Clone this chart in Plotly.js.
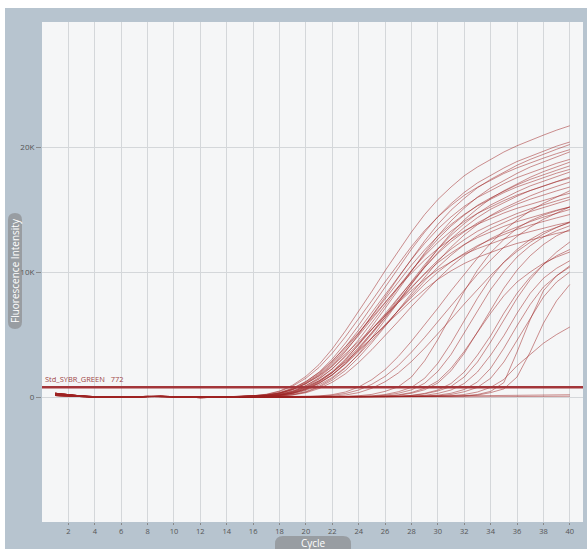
<!DOCTYPE html>
<html>
<head>
<meta charset="utf-8">
<script src="https://cdn.plot.ly/plotly-3.0.1.min.js"></script>
<style>html,body{margin:0;padding:0;background:#fff;}#chart{width:587px;height:549px;}</style>
</head>
<body>
<div id="chart"></div>
<script>
// Fluorescence values in thousands (K) per cycle 1..40
const cycles = [1,2,3,4,5,6,7,8,9,10,11,12,13,14,15,16,17,18,19,20,21,22,23,24,25,26,27,28,29,30,31,32,33,34,35,36,37,38,39,40];
const xTickVals = [2,4,6,8,10,12,14,16,18,20,22,24,26,28,30,32,34,36,38,40];
const xTickText = ['2','4','6','8','10','12','14','16','18','20','22','24','26','28','30','32','34','36','38','40'];
const yTickVals = [0,10,20];
const yTickText = ['0','10K','20K'];
const thresholdK = 0.772;
const thresholdLabel = 'Std_SYBR_GREEN\u00a0\u00a0\u00a0772';

const A1 = [0.25,0.14,0.06,0.02,-0.02,-0.03,0.01,0.05,0.06,0.03,0.00,-0.03,-0.02,0.02,0.04,0.10,0.22,0.48,0.95,1.65,2.6,3.85,5.3,6.85,8.45,10.1,11.7,13.2,14.6,15.8,16.8,17.7,18.4,19.0,19.6,20.1,20.55,20.95,21.35,21.7];
const A2 = [0.18,0.10,0.04,0.00,-0.03,-0.01,0.03,0.07,0.05,0.02,-0.02,-0.05,-0.03,0.00,0.03,0.07,0.15,0.33,0.67,1.23,1.99,3.04,4.32,5.74,7.26,8.78,10.34,11.82,13.19,14.42,15.47,16.37,17.13,17.75,18.32,18.84,19.26,19.69,20.07,20.40];
const A3 = [0.30,0.17,0.08,0.03,0.00,-0.02,0.00,0.04,0.05,0.04,0.01,-0.02,-0.03,-0.01,0.02,0.04,0.09,0.21,0.45,0.90,1.56,2.46,3.64,5.01,6.48,7.99,9.55,11.07,12.49,13.81,14.95,15.89,16.74,17.41,17.97,18.54,19.01,19.44,19.82,20.20];
const A4 = [0.12,0.06,0.02,-0.01,-0.04,-0.03,0.02,0.05,0.04,0.01,-0.01,-0.04,-0.05,-0.02,0.04,0.09,0.20,0.44,0.87,1.50,2.37,3.51,4.83,6.25,7.71,9.21,10.67,12.04,13.32,14.41,15.32,16.14,16.78,17.33,17.88,18.33,18.74,19.11,19.47,19.79];
const A5 = [0.25,0.14,0.06,0.02,-0.02,-0.03,0.01,0.05,0.06,0.03,0.00,-0.03,-0.04,-0.02,0.01,0.03,0.06,0.15,0.32,0.66,1.21,1.95,2.97,4.22,5.61,7.09,8.57,10.10,11.54,12.89,14.09,15.11,15.99,16.73,17.33,17.89,18.40,18.82,19.24,19.61];
const A6 = [0.18,0.10,0.04,0.00,-0.03,-0.01,0.03,0.07,0.05,0.02,-0.02,-0.05,-0.03,0.00,0.03,0.06,0.14,0.31,0.63,1.15,1.86,2.83,4.02,5.35,6.76,8.18,9.64,11.01,12.29,13.44,14.41,15.25,15.96,16.53,17.06,17.55,17.95,18.34,18.70,19.01];
const A7 = [0.30,0.17,0.08,0.03,0.00,-0.02,0.00,0.04,0.05,0.04,0.01,-0.02,-0.03,-0.01,0.01,0.02,0.04,0.09,0.20,0.43,0.85,1.48,2.33,3.45,4.75,6.14,7.58,9.06,10.49,11.84,13.10,14.17,15.07,15.88,16.50,17.04,17.58,18.03,18.43,18.79];
const A8 = [0.12,0.06,0.02,-0.01,-0.04,-0.03,0.02,0.05,0.04,0.01,-0.01,-0.04,-0.05,-0.02,0.02,0.04,0.09,0.19,0.42,0.82,1.43,2.25,3.33,4.59,5.93,7.32,8.75,10.13,11.43,12.64,13.68,14.55,15.33,15.93,16.45,16.97,17.41,17.80,18.14,18.49];
const A9 = [0.25,0.14,0.06,0.02,-0.02,-0.03,0.01,0.05,0.06,0.03,0.00,-0.03,-0.04,-0.02,0.01,0.03,0.06,0.14,0.30,0.60,1.11,1.79,2.72,3.87,5.15,6.51,7.87,9.28,10.59,11.83,12.94,13.87,14.68,15.36,15.91,16.42,16.89,17.28,17.66,18.00];
const A10 = [0.18,0.10,0.04,0.00,-0.03,-0.01,0.03,0.07,0.05,0.02,-0.02,-0.05,-0.03,0.00,0.02,0.06,0.13,0.28,0.58,1.06,1.71,2.60,3.70,4.92,6.23,7.53,8.87,10.13,11.31,12.37,13.27,14.04,14.69,15.22,15.71,16.16,16.52,16.89,17.22,17.50];
const A11 = [0.30,0.17,0.08,0.03,0.00,-0.02,0.00,0.04,0.05,0.04,0.01,-0.02,-0.03,-0.01,0.01,0.02,0.04,0.08,0.18,0.39,0.78,1.35,2.13,3.16,4.35,5.62,6.94,8.29,9.61,10.84,11.99,12.97,13.79,14.53,15.11,15.60,16.09,16.50,16.87,17.20];
const A12 = [0.12,0.06,0.02,-0.01,-0.04,-0.03,0.02,0.05,0.04,0.01,-0.01,-0.04,-0.05,-0.02,0.02,0.04,0.08,0.17,0.38,0.75,1.30,2.05,3.03,4.17,5.39,6.65,7.95,9.21,10.39,11.49,12.43,13.22,13.93,14.48,14.95,15.43,15.82,16.17,16.49,16.80];
const A13 = [0.25,0.14,0.06,0.02,-0.02,-0.03,0.01,0.05,0.06,0.03,0.00,-0.03,-0.04,-0.02,0.03,0.08,0.17,0.36,0.71,1.24,1.95,2.89,3.98,5.14,6.35,7.59,8.79,9.91,10.96,11.87,12.62,13.29,13.82,14.27,14.72,15.10,15.43,15.73,16.03,16.30];
const A14 = [0.18,0.10,0.04,0.00,-0.03,-0.01,0.03,0.07,0.05,0.02,-0.02,-0.05,-0.03,0.00,0.01,0.03,0.05,0.12,0.26,0.53,0.97,1.57,2.39,3.40,4.52,5.71,6.91,8.14,9.30,10.38,11.35,12.18,12.89,13.48,13.97,14.42,14.83,15.16,15.50,15.80];
const A15 = [0.30,0.17,0.08,0.03,0.00,-0.02,0.00,0.04,0.05,0.04,0.01,-0.02,-0.03,-0.01,0.02,0.05,0.11,0.25,0.50,0.92,1.48,2.26,3.22,4.28,5.41,6.54,7.71,8.80,9.83,10.75,11.52,12.20,12.76,13.22,13.65,14.03,14.35,14.67,14.95,15.20];
const A16 = [0.12,0.06,0.02,-0.01,-0.04,-0.03,0.02,0.05,0.04,0.01,-0.01,-0.04,-0.05,-0.02,0.01,0.03,0.07,0.15,0.33,0.65,1.13,1.78,2.63,3.63,4.69,5.78,6.91,8.00,9.03,9.99,10.81,11.49,12.11,12.59,13.00,13.41,13.75,14.06,14.33,14.60];
const A17 = [0.25,0.14,0.06,0.02,-0.02,-0.03,0.01,0.05,0.06,0.03,0.00,-0.03,-0.04,-0.02,0.03,0.06,0.14,0.31,0.61,1.06,1.68,2.48,3.42,4.42,5.45,6.51,7.55,8.51,9.42,10.19,10.84,11.42,11.87,12.26,12.64,12.96,13.25,13.51,13.77,14.00];
const A18 = [0.18,0.10,0.04,0.00,-0.03,-0.01,0.03,0.07,0.05,0.02,-0.02,-0.05,-0.03,0.00,0.02,0.04,0.10,0.22,0.44,0.80,1.30,1.98,2.82,3.74,4.74,5.73,6.75,7.71,8.60,9.41,10.09,10.68,11.17,11.58,11.95,12.29,12.57,12.84,13.09,13.30];
const A19 = [0.30,0.17,0.08,0.03,0.00,-0.02,0.00,0.04,0.05,0.04,0.01,-0.02,-0.03,-0.01,0.01,0.02,0.03,0.07,0.16,0.34,0.68,1.18,1.86,2.76,3.79,4.90,6.05,7.23,8.38,9.45,10.45,11.31,12.03,12.67,13.17,13.60,14.03,14.39,14.71,15.00];
const A20 = [0.12,0.06,0.02,-0.01,-0.04,-0.03,0.02,0.05,0.04,0.01,-0.01,-0.04,-0.05,-0.02,0.01,0.03,0.07,0.16,0.36,0.71,1.24,1.95,2.88,3.97,5.13,6.33,7.56,8.76,9.89,10.94,11.83,12.58,13.26,13.78,14.23,14.68,15.05,15.39,15.69,16.00];
const A21 = [0.25,0.14,0.06,0.02,-0.02,-0.03,0.01,0.05,0.06,0.03,0.00,-0.03,-0.04,-0.02,0.02,0.06,0.14,0.30,0.60,1.10,1.78,2.71,3.85,5.12,6.48,7.83,9.23,10.55,11.77,12.87,13.81,14.61,15.29,15.84,16.35,16.81,17.19,17.58,17.91,18.21];
const A22 = [0.18,0.10,0.04,0.00,-0.03,-0.01,0.03,0.07,0.05,0.02,-0.02,-0.05,-0.03,0.00,0.01,0.03,0.06,0.13,0.29,0.59,1.08,1.75,2.66,3.79,5.03,6.36,7.70,9.07,10.36,11.56,12.65,13.56,14.35,15.02,15.56,16.06,16.52,16.89,17.26,17.60];

const L1 = [0.30,0.17,0.08,0.03,0.00,-0.02,0.00,0.04,0.05,0.04,0.01,-0.02,-0.03,-0.01,0.00,0.00,0.01,0.01,0.02,0.03,0.08,0.19,0.40,0.80,1.39,2.19,3.24,4.46,5.77,7.11,8.50,9.85,11.11,12.29,13.30,14.15,14.90,15.49,16.00,16.50];
const L2 = [0.12,0.06,0.02,-0.01,-0.04,-0.03,0.02,0.05,0.04,0.01,-0.01,-0.04,-0.05,-0.02,0.00,-0.01,0.00,0.01,0.01,0.02,0.06,0.13,0.28,0.56,1.02,1.65,2.52,3.59,4.77,6.03,7.29,8.59,9.81,10.95,11.98,12.85,13.59,14.22,14.74,15.21];
const L3 = [0.25,0.14,0.06,0.02,-0.02,-0.03,0.01,0.05,0.06,0.03,0.00,-0.03,-0.04,-0.02,0.00,0.01,0.00,0.01,0.01,0.02,0.03,0.07,0.16,0.35,0.70,1.22,1.92,2.84,3.91,5.05,6.23,7.44,8.62,9.73,10.76,11.65,12.38,13.04,13.56,14.00];
const L4 = [0.18,0.10,0.04,0.00,-0.03,-0.01,0.03,0.07,0.05,0.02,-0.02,-0.05,-0.03,0.00,0.00,0.00,0.01,0.00,0.01,0.01,0.02,0.02,0.04,0.10,0.21,0.45,0.82,1.60,2.90,4.60,6.50,8.45,10.15,11.55,12.60,13.50,14.10,14.55,14.90,15.20];
const L5 = [0.30,0.17,0.08,0.03,0.00,-0.02,0.00,0.04,0.05,0.04,0.01,-0.02,-0.03,-0.01,0.00,0.00,-0.01,0.00,0.01,0.00,0.01,0.02,0.02,0.04,0.09,0.20,0.42,0.77,1.50,2.70,4.30,6.10,7.90,9.50,10.80,11.80,12.60,13.20,13.60,13.95];
const L6 = [0.12,0.06,0.02,-0.01,-0.04,-0.03,0.02,0.05,0.04,0.01,-0.01,-0.04,-0.05,-0.02,0.00,-0.01,0.00,0.00,0.01,0.01,0.00,0.01,0.02,0.03,0.06,0.14,0.30,0.57,1.10,2.05,3.40,5.10,6.90,8.60,10.00,11.20,12.10,12.80,13.30,13.70];
const L7 = [0.25,0.14,0.06,0.02,-0.02,-0.03,0.01,0.05,0.06,0.03,0.00,-0.03,-0.04,-0.02,0.00,0.01,0.00,0.00,0.01,0.01,0.01,0.01,0.02,0.02,0.03,0.08,0.17,0.36,0.70,1.28,2.30,3.65,5.20,6.70,8.10,9.20,10.00,10.70,11.20,11.60];
const L8 = [0.18,0.10,0.04,0.00,-0.03,-0.01,0.03,0.07,0.05,0.02,-0.02,-0.05,-0.03,0.00,0.00,0.00,0.01,0.00,0.00,0.01,0.01,0.02,0.01,0.02,0.03,0.06,0.14,0.30,0.58,1.12,2.10,3.50,5.20,7.00,8.70,10.15,11.30,12.20,12.90,13.40];
const L9 = [0.30,0.17,0.08,0.03,0.00,-0.02,0.00,0.04,0.05,0.04,0.01,-0.02,-0.03,-0.01,0.00,0.00,0.00,0.01,0.00,0.01,0.01,0.01,0.02,0.02,0.03,0.03,0.06,0.13,0.29,0.56,1.08,2.00,3.35,4.90,6.70,8.30,9.60,10.60,11.30,11.80];
const L10 = [0.12,0.06,0.02,-0.01,-0.04,-0.03,0.02,0.05,0.04,0.01,-0.01,-0.04,-0.05,-0.02,0.00,-0.01,0.00,0.00,0.00,0.01,0.01,0.00,0.01,0.01,0.02,0.02,0.03,0.06,0.13,0.29,0.56,1.08,2.00,3.35,4.90,6.70,8.30,9.50,10.30,10.90];
const L11 = [0.25,0.14,0.06,0.02,-0.02,-0.03,0.01,0.05,0.06,0.03,0.00,-0.03,-0.04,-0.02,0.00,0.01,0.00,0.00,0.01,0.00,0.01,0.01,0.01,0.02,0.01,0.02,0.02,0.03,0.07,0.15,0.30,0.60,1.20,2.30,3.90,5.70,7.40,8.80,9.70,10.40];
const L12 = [0.18,0.10,0.04,0.00,-0.03,-0.01,0.03,0.07,0.05,0.02,-0.02,-0.05,-0.03,0.00,0.00,0.00,0.01,0.00,0.00,0.01,0.01,0.00,0.01,0.01,0.02,0.02,0.02,0.03,0.04,0.09,0.20,0.42,0.77,1.50,2.80,4.50,6.30,8.00,9.20,10.00];
const L13 = [0.30,0.17,0.08,0.03,0.00,-0.02,0.00,0.04,0.05,0.04,0.01,-0.02,-0.03,-0.01,0.00,0.00,0.00,0.01,0.00,0.01,0.01,0.01,0.02,0.02,0.02,0.03,0.03,0.04,0.05,0.07,0.10,0.20,0.40,0.77,1.40,2.50,3.40,4.30,5.00,5.60];
const L14 = [0.12,0.06,0.02,-0.01,-0.04,-0.03,0.02,0.05,0.04,0.01,-0.01,-0.04,-0.05,-0.02,0.00,-0.01,0.00,0.00,0.00,0.01,0.00,0.01,0.01,0.01,0.02,0.02,0.02,0.03,0.03,0.04,0.06,0.10,0.20,0.45,1.15,3.60,6.20,8.50,9.70,10.50];
const L15 = [0.25,0.14,0.06,0.02,-0.02,-0.03,0.01,0.05,0.06,0.03,0.00,-0.03,-0.04,-0.02,0.00,0.01,0.00,0.00,0.01,0.00,0.01,0.01,0.01,0.01,0.02,0.02,0.02,0.03,0.03,0.04,0.05,0.08,0.15,0.35,0.65,1.60,3.60,5.90,7.70,9.00];
const L16 = [0.18,0.10,0.04,0.00,-0.03,-0.01,0.03,0.07,0.05,0.02,-0.02,-0.05,-0.03,0.00,0.00,0.00,0.01,0.00,0.01,0.01,0.01,0.02,0.02,0.02,0.03,0.04,0.05,0.12,0.25,0.48,0.85,1.60,2.80,4.40,6.20,7.90,9.40,10.60,11.60,12.40];

const N1 = [0.30,0.17,0.08,0.03,0.00,-0.02,0.00,0.04,0.05,0.04,0.01,-0.02,-0.03,-0.01,0.00,0.00,-0.01,0.00,0.00,0.01,0.00,0.00,0.01,0.00,0.01,0.01,0.00,0.01,0.01,0.02,0.01,0.02,0.02,0.03,0.03,0.04,0.04,0.05,0.05,0.06];
const N2 = [0.12,0.06,0.02,-0.01,-0.04,-0.03,0.02,0.05,0.04,0.01,-0.01,-0.04,-0.05,-0.02,0.00,-0.01,0.00,0.00,0.01,0.01,0.01,0.02,0.02,0.03,0.03,0.04,0.05,0.05,0.06,0.07,0.08,0.09,0.10,0.11,0.12,0.13,0.14,0.15,0.16,0.18];

const wells = [N1,N2,L16,L15,L14,L13,L12,L11,L10,L9,L8,L7,L6,L5,L4,L3,L2,L1,
  A22,A21,A20,A19,A18,A17,A16,A15,A14,A13,A12,A11,A10,A9,A8,A7,A6,A5,A4,A3,A2,A1];

const traces = wells.map(v => ({
  type: 'scatter', mode: 'lines', x: cycles.slice(0, v.length), y: v,
  line: {color: 'rgba(158,34,34,0.5)', width: 1}, hoverinfo: 'skip', showlegend: false
}));
traces.push({
  type: 'scatter', mode: 'lines', x: [0, 41], y: [thresholdK, thresholdK],
  line: {color: '#a3363a', width: 2.5}, hoverinfo: 'skip', showlegend: false
});

// pill geometry in paper coordinates
const yPill = 'M -0.0629,0.604 L -0.0629,0.400 Q -0.0629,0.386 -0.0499,0.386 Q -0.0370,0.386 -0.0370,0.400 L -0.0370,0.604 Q -0.0370,0.618 -0.0499,0.618 Q -0.0629,0.618 -0.0629,0.604 Z';
const xPill = 'M 0.4455,-0.028 L 0.5564,-0.028 Q 0.5712,-0.028 0.5712,-0.044 L 0.5712,-0.07 L 0.4307,-0.07 L 0.4307,-0.044 Q 0.4307,-0.028 0.4455,-0.028 Z';

const layout = {
  width: 587, height: 549,
  margin: {l: 42, r: 4, t: 22, b: 27, pad: 0},
  paper_bgcolor: '#b7c4cf',
  plot_bgcolor: '#f5f6f7',
  font: {family: 'Open Sans, Noto Sans, sans-serif', color: '#555'},
  showlegend: false,
  xaxis: {
    range: [0, 41], tickvals: xTickVals, ticktext: xTickText,
    showgrid: true, gridcolor: '#d4d7da', gridwidth: 1,
    zeroline: false, showline: false,
    ticks: 'outside', ticklen: 2, tickcolor: '#888', tickwidth: 1,
    tickfont: {size: 7.5, color: '#555'}, fixedrange: true
  },
  yaxis: {
    range: [-10, 30], tickvals: yTickVals, ticktext: yTickText,
    showgrid: true, gridcolor: '#d4d7da', gridwidth: 1,
    zeroline: false, showline: false,
    ticks: 'outside', ticklen: 5, tickcolor: '#888', tickwidth: 1,
    tickfont: {size: 8, color: '#555'}, fixedrange: true
  },
  shapes: [
    {type: 'rect', xref: 'paper', yref: 'paper', x0: -0.1, x1: 1.1, y0: 1.028, y1: 1.1, fillcolor: '#ffffff', line: {width: 0}, layer: 'below'},
    {type: 'rect', xref: 'paper', yref: 'paper', x0: -0.1, x1: -0.0684, y0: -0.1, y1: 1.1, fillcolor: '#ffffff', line: {width: 0}, layer: 'below'},
    {type: 'path', xref: 'paper', yref: 'paper', path: yPill, fillcolor: '#989da2', line: {width: 0}, layer: 'below'},
    {type: 'path', xref: 'paper', yref: 'paper', path: xPill, fillcolor: '#989da2', line: {width: 0}, layer: 'below'}
  ],
  annotations: [
    {text: thresholdLabel, xref: 'paper', x: 0, xanchor: 'left', xshift: 1,
     yref: 'y', y: thresholdK, yanchor: 'bottom', yshift: 1.5, showarrow: false,
     font: {size: 7.5, color: '#a04848'}},
    {text: 'Fluorescence Intensity', xref: 'paper', x: -0.0499, yref: 'paper', y: 0.502,
     textangle: -90, showarrow: false, xanchor: 'center', yanchor: 'middle',
     font: {size: 10, color: '#ffffff'}},
    {text: 'Cycle', xref: 'paper', x: 0.501, yref: 'paper', y: -0.041,
     showarrow: false, xanchor: 'center', yanchor: 'middle', borderpad: 0,
     font: {size: 10, color: '#ffffff'}}
  ]
};

Plotly.newPlot('chart', traces, layout, {displayModeBar: false, staticPlot: true});
</script>
</body>
</html>
